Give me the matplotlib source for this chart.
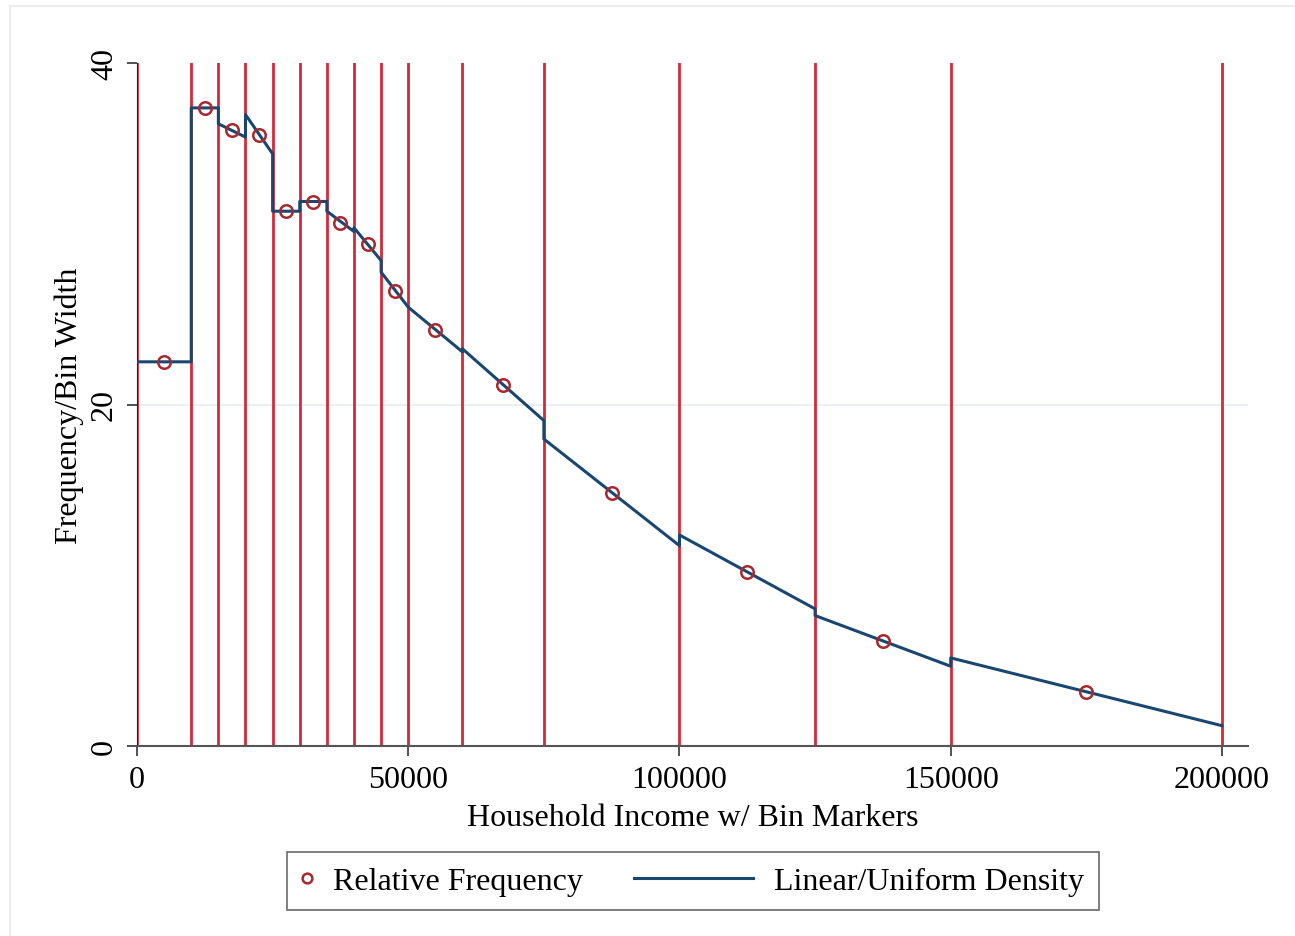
import numpy as np
import matplotlib
matplotlib.use('Agg')
import matplotlib.pyplot as plt
from matplotlib.lines import Line2D
from matplotlib.legend_handler import HandlerLine2D

plt.rcParams['font.family'] = ['Liberation Serif', 'DejaVu Serif']

# bin edges (household income)
bin_edges = [0, 10000, 15000, 20000, 25000, 30000, 35000, 40000, 45000,
             50000, 60000, 75000, 100000, 125000, 150000, 200000]

# relative frequency per bin (frequency / bin width), plotted at bin midpoints
rel_freq = [22.5, 37.37, 36.09, 35.79, 31.34, 31.87, 30.64, 29.41, 26.65,
            24.37, 21.15, 14.82, 10.19, 6.15, 3.16]

# linear/uniform density: value at left and right edge of each bin
dens_left = [22.5, 37.37, 36.44, 36.98, 31.32, 31.89, 31.32, 30.35, 27.75,
             25.70, 23.26, 17.98, 12.36, 7.64, 5.16]
dens_right = [22.5, 37.37, 35.66, 34.68, 31.32, 31.89, 30.13, 28.43, 25.70,
              23.08, 19.06, 11.73, 8.03, 4.67, 1.19]

mids = [(a + b) / 2 for a, b in zip(bin_edges[:-1], bin_edges[1:])]
line_x = []
line_y = []
for i in range(len(mids)):
    line_x += [bin_edges[i], bin_edges[i + 1]]
    line_y += [dens_left[i], dens_right[i]]

red = '#d62839'
navy = '#1a476f'
marker_red = '#a8282f'
fs = 23


class MarkerHandler(HandlerLine2D):
    # single marker placed near the left of the handle box
    def create_artists(self, legend, orig_handle, xdescent, ydescent,
                       width, height, fontsize, trans):
        y = height / 2 - ydescent
        m = Line2D([-xdescent + 4], [y])
        self.update_prop(m, orig_handle, legend)
        m.set_transform(trans)
        return [m]


class LongLineHandler(HandlerLine2D):
    # legend line drawn longer, reaching back into the column gap
    def create_artists(self, legend, orig_handle, xdescent, ydescent,
                       width, height, fontsize, trans):
        y = height / 2 - ydescent
        end = -xdescent + width - 6.2
        ln = Line2D([end - 85.7, end], [y, y])
        self.update_prop(ln, orig_handle, legend)
        ln.set_transform(trans)
        return [ln]


fig = plt.figure(figsize=(12.95, 9.37), dpi=100)
ax = fig.add_axes([137 / 1295, 1 - 747 / 937, (1248 - 137) / 1295, (747 - 64) / 937])

# faint outer frame
fig.add_artist(Line2D([10 / 1295, 1], [1 - 7 / 937, 1 - 7 / 937], color='#ececec', lw=1.5))
fig.add_artist(Line2D([10 / 1295, 10 / 1295], [0, 1 - 7 / 937], color='#ececec', lw=1.5))

ax.axhline(20, color='#e4edf1', lw=1.2, zorder=0)

for e in bin_edges:
    ax.axvline(e, color=red, lw=2, zorder=1)

ax.plot(line_x, line_y, color=navy, lw=2.2, zorder=3)
ax.plot(mids, rel_freq, linestyle='none', marker='o', markersize=9,
        markerfacecolor='none', markeredgecolor=marker_red, markeredgewidth=1.8, zorder=4)

ax.set_xlim(0, 204800)
ax.set_ylim(0, 40)
ax.set_xticks([0, 50000, 100000, 150000, 200000])
ax.set_xticklabels(['0', '50000', '100000', '150000', '200000'])
ax.set_yticks([0, 20, 40])
ax.set_yticklabels(['0', '20', '40'], rotation=90, va='center')

for s in ['top', 'right']:
    ax.spines[s].set_visible(False)
ax.spines['left'].set_color('#222222')
ax.spines['bottom'].set_color('#555555')
ax.spines['bottom'].set_linewidth(1.5)
ax.tick_params(axis='both', labelsize=fs, length=7, width=1.2, color='#333333')
ax.tick_params(axis='x', pad=7)
ax.tick_params(axis='y', pad=6)

ax.set_xlabel('Household Income w/ Bin Markers', fontsize=fs, labelpad=6)
ax.set_ylabel('Frequency/Bin Width', fontsize=fs, labelpad=4)

h_marker = Line2D([], [], linestyle='none', marker='o', markersize=7, markerfacecolor='none',
                  markeredgecolor=marker_red, markeredgewidth=1.8)
h_line = Line2D([], [], color=navy, lw=2.2)
leg = fig.legend([h_marker, h_line], ['Relative Frequency', 'Linear/Uniform Density'],
                 loc='center', bbox_to_anchor=(693 / 1295, 1 - 882 / 937), ncol=2,
                 fontsize=fs, frameon=True, fancybox=False, edgecolor='#444444',
                 handlelength=0.6, columnspacing=5.0, borderpad=0.45, handletextpad=0.39,
                 handler_map={h_marker: MarkerHandler(), h_line: LongLineHandler()})
leg.get_frame().set_linewidth(1.2)

fig.savefig('out.png', dpi=100, facecolor='white')
